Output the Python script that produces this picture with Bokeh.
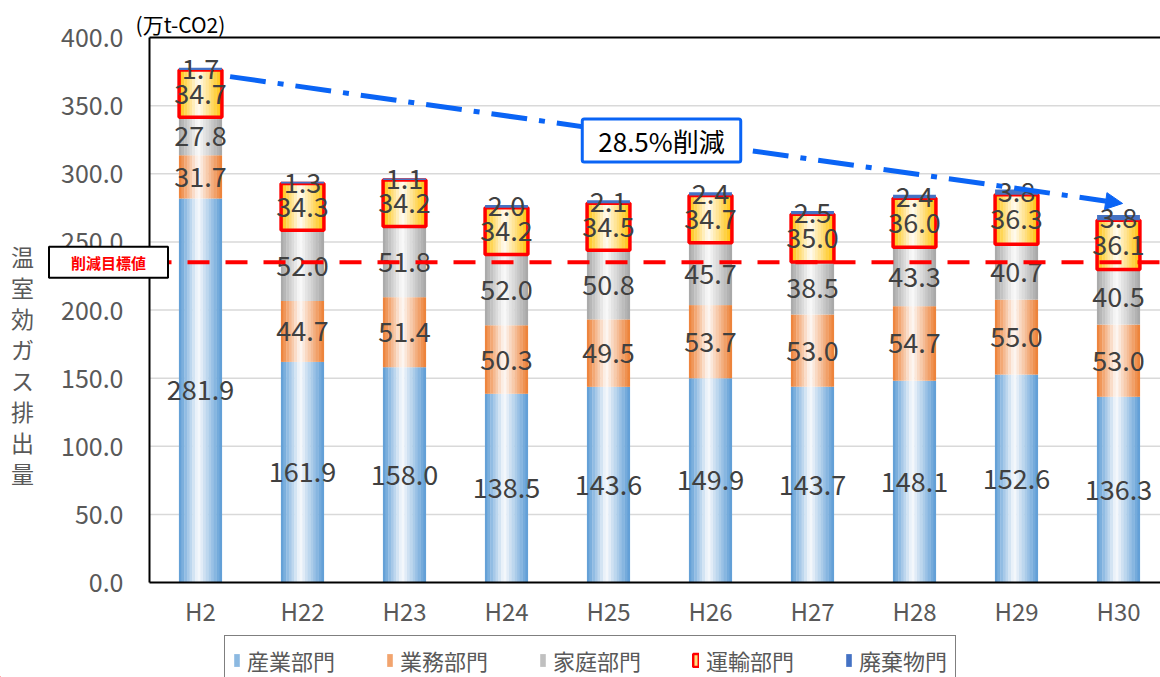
import numpy as np
from bokeh.plotting import figure
from bokeh.models import (ColumnDataSource, Range1d, FixedTicker, NumeralTickFormatter,
                          Label, Arrow, NormalHead, Legend, LegendItem)
from bokeh.core.properties import value
from bokeh.embed import file_html
from bokeh.resources import INLINE

# ---------------- data ----------------
categories = ["H2", "H22", "H23", "H24", "H25", "H26", "H27", "H28", "H29", "H30"]
industry = [281.9, 161.9, 158.0, 138.5, 143.6, 149.9, 143.7, 148.1, 152.6, 136.3]
business = [31.7, 44.7, 51.4, 50.3, 49.5, 53.7, 53.0, 54.7, 55.0, 53.0]
household = [27.8, 52.0, 51.8, 52.0, 50.8, 45.7, 38.5, 43.3, 40.7, 40.5]
transport = [34.7, 34.3, 34.2, 34.2, 34.5, 34.7, 35.0, 36.0, 36.3, 36.1]
waste = [1.7, 1.3, 1.1, 2.0, 2.1, 2.4, 2.5, 2.4, 3.8, 3.8]
series_names = ["産業部門", "業務部門", "家庭部門", "運輸部門", "廃棄物門"]
target_value = 235.0
y_ticks = [0, 50, 100, 150, 200, 250, 300, 350, 400]
reduction_text = "28.5%削減"
target_text = "削減目標値"
unit_text = "(万t-CO2)"
y_title = "温室効ガス排出量"

# ---------------- layout / style ----------------
W, H = 1160, 677
FRAME_L, FRAME_T, FRAME_B = 149, 37, 582
PX_PER_CAT = 102.0
Y_MAX = 400.0
PX_PER_Y = (FRAME_B - FRAME_T) / Y_MAX
X_START = -FRAME_L / PX_PER_CAT
X_END = X_START + W / PX_PER_CAT
Y_END = Y_MAX + FRAME_T / PX_PER_Y
Y_START = Y_END - H / PX_PER_Y


def X(px):
    return X_START + px / PX_PER_CAT


def Y(py):
    return Y_END - py / PX_PER_Y


FONT = "Noto Sans CJK JP"
GRAY_TXT = "#595959"
LABEL_TXT = "#404040"
BLUE = "#5B9BD5"
ORANGE = "#ED7D31"
GREY = "#A5A5A5"
GOLD = "#FFC000"
WASTE = "#4472C4"
ARROW_BLUE = "#0A64F5"

n = len(categories)
xc = np.arange(n) + 0.5
BAR_W = 0.42

series_vals = [industry, business, household, transport, waste]
bottoms = []
acc = np.zeros(n)
for s in series_vals:
    bottoms.append(acc.copy())
    acc = acc + np.array(s)
totals = acc


def hex2rgb(h):
    h = h.lstrip("#")
    return tuple(int(h[i:i + 2], 16) for i in (0, 2, 4))


def mix(base, frac):
    r, g, b = hex2rgb(base)
    return "#%02x%02x%02x" % (int(255 + (r - 255) * frac), int(255 + (g - 255) * frac),
                              int(255 + (b - 255) * frac))


def strips(base, bot, top, nstr=16, hi=0.45, minmix=0.04):
    xs, bs, ts, cs = [], [], [], []
    step = BAR_W / nstr
    for j in range(nstr):
        u = (j + 0.5) / nstr
        d = abs(u - hi) / (hi if u < hi else 1 - hi)
        f = minmix + (1 - minmix) * d
        col = mix(base, f)
        for i in range(n):
            xs.append(xc[i] - BAR_W / 2 + (j + 0.5) * step)
            bs.append(bot[i])
            ts.append(top[i])
            cs.append(col)
    return ColumnDataSource(dict(x=xs, bottom=bs, top=ts, color=cs)), step


p = figure(width=W, height=H, output_backend="svg", toolbar_location=None,
           x_range=Range1d(X_START, X_END), y_range=Range1d(Y_START, Y_END),
           min_border=0)
p.outline_line_color = None
p.background_fill_color = "white"
p.border_fill_color = "white"
p.grid.visible = False

# grid lines (inside plot area only)
grid_y = [t for t in y_ticks if 0 < t < Y_MAX]
p.segment(x0=[0] * len(grid_y), x1=[X_END] * len(grid_y), y0=grid_y, y1=grid_y,
          line_color="#D9D9D9", line_width=1.5)

# gradient bars
for k, base in enumerate([BLUE, ORANGE, GREY, GOLD]):
    bot = bottoms[k]
    top = bottoms[k] + np.array(series_vals[k])
    src, step = strips(base, bot, top)
    p.vbar(x="x", bottom="bottom", top="top", width=step * 1.12, fill_color="color",
           line_color=None, source=src)

# transport outline
tsrc = ColumnDataSource(dict(x=xc, bottom=bottoms[3], top=bottoms[3] + np.array(transport)))
p.vbar(x="x", bottom="bottom", top="top", width=BAR_W, fill_color=None,
       line_color="#FF0000", line_width=3.5, source=tsrc)

# waste
wsrc = ColumnDataSource(dict(x=xc, bottom=bottoms[4], top=totals))
p.vbar(x="x", bottom="bottom", top="top", width=BAR_W, fill_color=WASTE,
       line_color=None, source=wsrc)

# top border of plot area
p.segment(x0=[0], x1=[X_END], y0=[Y_MAX], y1=[Y_MAX], line_color="black", line_width=2)

# value labels
lx, ly, lt = [], [], []
for k, s in enumerate(series_vals):
    for i in range(n):
        lx.append(xc[i])
        ly.append(bottoms[k][i] + s[i] / 2)
        lt.append(f"{s[i]:.1f}")
p.text(x=lx, y=ly, text=lt, text_font=value(FONT), text_font_size="27px",
       text_align="center", text_baseline="middle", text_color=LABEL_TXT)

# target line
p.segment(x0=[0], x1=[X_END], y0=[target_value], y1=[target_value],
          line_color="#FF0000", line_width=4, line_dash="22 16")

# arrow
arrow = Arrow(x_start=xc[0] + 0.29, y_start=totals[0] - 6.5,
              x_end=xc[-1] + 0.04, y_end=totals[-1] + 8.5,
              line_color=ARROW_BLUE, line_width=5, line_dash="36 12 6 12",
              end=NormalHead(size=17, fill_color=ARROW_BLUE, line_color=ARROW_BLUE, line_width=1))
p.add_layout(arrow)

p.add_layout(Label(x=X(661), y=Y(140), text=reduction_text, text_font=FONT, text_font_size="26px",
                   text_align="center", text_baseline="middle", text_color="black",
                   background_fill_color="white", border_line_color=ARROW_BLUE,
                   border_line_width=3, border_radius=2,
                   padding=dict(left=16, right=16, top=3, bottom=3)))

# target label box
p.add_layout(Label(x=X(108), y=target_value, text=target_text, text_font=FONT,
                   text_font_size="15px", text_font_style="bold", text_color="#FF0000",
                   text_align="center", text_baseline="middle",
                   background_fill_color="white", border_line_color="black", border_line_width=2,
                   padding=dict(left=22, right=22, top=5, bottom=5)))

# unit label
p.add_layout(Label(x=X(180), y=Y(23), text=unit_text, text_font=FONT, text_font_size="21px",
                   text_color="black", text_align="center", text_baseline="middle"))

# vertical y title
p.add_layout(Label(x=X(22), y=Y(364), text="\n".join(y_title), text_font=FONT,
                   text_font_size="23px", text_color=GRAY_TXT, text_align="center",
                   text_baseline="middle", text_line_height=0.91))

# axes (drawn at the data origin)
p.yaxis.fixed_location = 0
p.yaxis.bounds = (0, Y_MAX)
p.yaxis.ticker = FixedTicker(ticks=y_ticks)
p.yaxis.formatter = NumeralTickFormatter(format="0.0")
p.yaxis.axis_line_color = "black"
p.yaxis.axis_line_width = 2
p.yaxis.major_tick_line_color = None
p.yaxis.minor_tick_line_color = None
p.yaxis.major_label_text_font = FONT
p.yaxis.major_label_text_font_size = "25px"
p.yaxis.major_label_text_color = GRAY_TXT
p.yaxis.major_label_standoff = 20

p.xaxis.fixed_location = 0
p.xaxis.bounds = (0, X_END)
p.xaxis.ticker = FixedTicker(ticks=list(xc))
p.xaxis.major_label_overrides = {float(x): c for x, c in zip(xc, categories)}
p.xaxis.axis_line_color = "black"
p.xaxis.axis_line_width = 2
p.xaxis.major_tick_line_color = None
p.xaxis.minor_tick_line_color = None
p.xaxis.major_label_text_font = FONT
p.xaxis.major_label_text_font_size = "24px"
p.xaxis.major_label_text_color = GRAY_TXT
p.xaxis.major_label_standoff = 4

# legend (swatch renderers hold one point far outside the view)
off = dict(x=[X_START - 50.0], bottom=[Y_START - 200.0], top=[Y_START - 100.0])
leg_specs = [(mix(BLUE, 0.7), None, 0), (mix(ORANGE, 0.7), None, 0), (mix(GREY, 0.7), None, 0),
             (mix(GOLD, 0.5), "#FF0000", 2.5), (WASTE, None, 0)]
items = []
for name, (fc, lc, lw) in zip(series_names, leg_specs):
    r = p.vbar(x="x", bottom="bottom", top="top", width=0.1, source=ColumnDataSource(off),
               fill_color=fc, line_color=lc, line_width=lw)
    items.append(LegendItem(label=name, renderers=[r]))
legend = Legend(items=items, orientation="horizontal", location=(224, -8),
                border_line_color="black", border_line_width=1.5, background_fill_color="white",
                padding=8, spacing=51, glyph_width=7, glyph_height=16, label_standoff=7,
                label_text_font=FONT, label_text_font_size="22px", label_text_color=GRAY_TXT,
                margin=0)
p.add_layout(legend)

open("out.html", "w").write(file_html(p, INLINE))
